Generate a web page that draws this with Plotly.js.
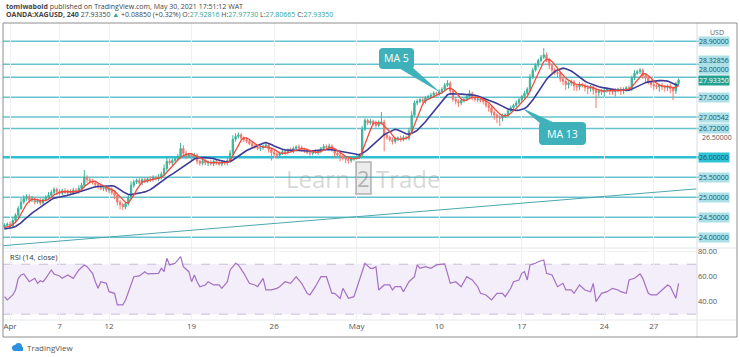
<!DOCTYPE html>
<html><head><meta charset="utf-8">
<script src="https://cdn.plot.ly/plotly-3.0.1.min.js"></script>
<style>html,body{margin:0;padding:0;background:#fff;overflow:hidden}#chart{width:740px;height:357px}</style>
</head><body><div id="chart"></div>
<script>
// ---------------- DATA ----------------
// x positions are 4-hour bar indices; bar 2 = first bar of Apr 1
const dayLabels = ['Apr','7','12','19','26','May','10','17','24','27'];
const dayBars   = [2, 20, 38, 68, 98, 128, 158, 188, 218, 236];

// closes of the 12 bars before the visible window (used only to seed the moving averages)
const warmCloses = [24.18,24.22,24.15,24.20,24.25,24.18,24.12,24.20,24.24,24.18,24.22,24.26];

// closes of the visible 4h bars
const closes = [
 24.30,24.33,24.28,24.42,24.55,24.72,24.88,24.97,25.02,24.93,
 24.96,24.88,24.92,24.86,24.94,25.00,25.05,25.12,25.20,25.14,
 25.10,25.16,25.12,25.15,25.10,25.18,25.14,25.22,25.30,25.50,
 25.44,25.40,25.36,25.32,25.26,25.22,25.25,25.18,25.20,25.12,
 25.05,24.88,24.82,24.76,24.84,24.98,25.30,25.38,25.42,25.36,
 25.44,25.40,25.46,25.44,25.50,25.46,25.50,25.58,25.72,25.90,
 25.86,25.92,25.96,26.02,26.22,26.10,26.04,26.06,26.02,26.05,
 25.90,25.85,25.90,25.86,25.88,25.84,25.90,25.86,25.83,25.88,
 25.86,25.92,26.10,26.45,26.52,26.56,26.48,26.44,26.40,26.34,
 26.28,26.26,26.22,26.24,26.28,26.31,26.20,26.12,26.08,26.05,
 26.10,26.14,26.12,26.18,26.16,26.22,26.26,26.24,26.20,26.16,
 26.12,26.10,26.14,26.12,26.15,26.22,26.27,26.25,26.28,26.18,
 26.10,26.06,26.02,25.98,25.95,25.92,25.96,25.98,26.02,26.05,
 26.70,26.92,26.86,26.90,26.84,26.80,26.86,26.88,26.55,26.50,
 26.44,26.40,26.46,26.48,26.45,26.50,26.48,26.66,27.05,27.36,
 27.40,27.44,27.40,27.48,27.52,27.55,27.60,27.58,27.64,27.70,
 27.80,27.85,27.66,27.45,27.40,27.36,27.42,27.44,27.52,27.60,
 27.50,27.44,27.46,27.42,27.40,27.30,27.24,27.12,27.06,27.00,
 26.98,27.04,27.06,27.16,27.24,27.30,27.36,27.44,27.52,27.60,
 27.70,28.00,28.18,28.30,28.42,28.50,28.56,28.44,28.30,28.18,
 28.12,28.10,27.96,27.90,27.82,27.86,27.88,27.78,27.76,27.82,
 27.80,27.74,27.72,27.76,27.68,27.62,27.66,27.63,27.68,27.70,
 27.66,27.64,27.68,27.70,27.66,27.70,27.74,27.72,27.98,28.10,
 28.14,28.18,28.04,27.98,27.88,27.82,27.78,27.76,27.80,27.76,
 27.74,27.78,27.72,27.66,27.845,27.9335
];

// upper / lower wick lengths in cents
const wickUp = [
 5,4,6,8,5,6,10,8,6,5,7,4,  5,6,4,5,8,6,5,4,6,5,7,4,
 5,6,5,8,6,18,5,4,6,5,4,6,  5,4,6,5,4,3,5,4,5,8,10,6,
 5,8,6,5,4,6,5,4,8,6,10,12, 6,5,4,6,14,8,6,5,4,6,5,4,
 6,5,4,6,5,4,6,5,4,6,8,10,  8,6,5,4,6,5,4,6,5,6,4,8,
 5,4,6,5,4,6,5,4,6,5,4,6,   5,4,6,5,4,6,5,4,6,5,6,4,
 5,4,6,5,4,6,5,4,6,5,8,6,   5,6,4,8,6,25,6,5,4,6,5,4,
 6,5,4,8,10,6,5,4,6,5,4,6,  5,4,6,5,6,8,5,4,6,5,4,6,
 5,8,4,6,5,4,6,5,4,6,5,4,   6,5,4,6,5,4,6,5,4,6,5,8,
 6,5,4,6,17,6,5,4,6,5,4,6,  5,4,6,5,4,6,5,4,6,5,4,6,
 5,4,6,5,4,6,5,4,6,5,4,6,   6,8,5,5,4,6,5,4,6,5,4,6,
 5,4,6,5,4,4
];
const wickDn = [
 6,5,8,4,5,6,4,5,6,8,5,6,   4,6,5,4,6,5,4,8,6,5,4,6,
 5,4,6,5,4,6,8,5,4,6,5,4,   6,5,8,6,10,8,12,8,6,5,4,6,
 5,4,6,5,4,6,5,4,6,5,4,6,   5,6,4,5,4,6,8,5,10,6,8,6,
 5,6,8,5,6,5,4,6,5,6,4,5,   6,5,4,6,5,4,6,5,4,6,5,4,
 8,20,10,6,5,4,6,5,4,6,5,4, 6,5,4,6,5,4,6,5,4,6,5,4,
 10,8,12,6,10,8,6,5,4,6,5,4, 6,5,4,6,5,4,40,6,5,8,6,5,
 6,5,4,6,5,4,6,5,4,6,5,4,   6,5,4,6,5,4,10,6,8,10,6,5,
 4,6,8,5,6,5,8,6,10,8,12,15, 20,8,6,5,4,6,5,4,6,5,4,6,
 5,4,6,5,4,6,10,8,6,12,8,10, 14,10,8,12,10,8,6,10,14,8,12,39,
 10,8,12,6,10,8,12,6,10,8,6,5, 6,5,4,6,8,10,6,8,10,6,12,8,
 10,8,12,23,8,4
];

// horizontal levels drawn on the chart
const levels = [28.9, 28.32856, 28.0, 27.5, 27.00542, 26.72, 26.0, 25.5, 25.0, 24.5, 24.0];
const keyLevel = 26.0;
const plainTicks = [26.5];
const lastPrice = 27.9335;
const header = {open: 27.92816, high: 27.97730, low: 27.80665, close: 27.93350, change: 0.08850, pct: 0.32};

// rising trend line
const trendBars = [-0.5, 251.5];
const trendPrices = [23.79, 25.21];

// RSI (14, close)
const rsiBars = [
 0,1,3,4,5,6,7,9,10,11, 12,13,14,15,17,18,20,21,23,25,
 27,29,30,32,33,34,35,37,38,40, 41,43,44,46,47,49,51,52,54,56,
 57,58,59,60,62,64,65,67,68,69, 70,71,73,74,76,78,79,81,82,84,
 85,87,89,91,92,94,95,97,99,100, 102,104,106,108,110,111,113,115,117,119,
 120,122,123,125,127,128,130,131,133,134, 135,136,138,140,141,142,144,145,147,149,
 150,151,153,155,157,160,161,162,164,166, 168,170,172,173,175,177,179,181,182,184,
 185,187,188,189,190,191,193,194,196,197, 199,201,203,204,206,207,209,211,213,214,
 215,217,219,221,223,224,226,227,229,231, 232,234,235,237,239,241,242,244,245
];
const rsiValues = [
 44.0,41.4,45.4,49.4,58.7,61.4,62.2,56.0,57.4,58.7, 54.7,56.8,56.0,58.7,65.4,62.2,60.6,58.7,61.4,58.7,
 65.4,69.4,68.0,62.7,56.0,50.7,56.0,54.7,48.0,46.7, 37.4,37.4,41.4,53.4,60.0,60.6,64.0,62.2,62.2,62.7,
 66.7,64.0,74.7,69.4,70.7,76.0,68.0,64.0,56.0,61.4, 56.0,52.0,53.4,56.0,53.4,53.4,50.7,56.0,65.4,70.7,
 69.4,62.7,54.7,53.4,52.0,58.7,49.4,49.4,50.7,52.0, 56.0,54.7,60.0,54.7,46.7,45.4,52.0,60.0,60.0,46.7,
 46.7,42.7,50.7,42.7,44.0,50.7,62.7,70.7,66.7,66.7, 68.0,49.4,53.4,53.4,49.4,52.0,52.0,48.0,56.0,60.0,
 69.4,66.7,68.0,66.7,69.4,70.2,62.7,54.7,56.0,52.0, 60.0,57.4,52.0,46.7,45.4,41.4,46.7,46.7,44.0,50.7,
 56.0,57.4,62.7,64.0,57.4,69.4,70.7,72.0,73.4,62.7, 61.4,52.0,54.7,49.4,49.4,46.7,53.4,49.4,48.0,54.7,
 40.0,46.7,48.0,50.7,49.4,48.0,46.7,57.4,58.7,62.2, 58.7,46.7,45.4,45.4,49.4,53.4,52.0,42.7,54.7
];
const rsiTicks = [40, 60, 80];
const rsiBand = [30, 70];

// ---------------- BUILD ----------------
const W = 740, H = 357;
const X = px => px / W;
const Y = py => 1 - py / H;

const bars = closes.map((_, i) => i);
const allCloses = warmCloses.concat(closes);
const opens = closes.map((c, i) => allCloses[i + warmCloses.length - 1]);
const highs = closes.map((c, i) => Math.max(opens[i], c) + wickUp[i] / 100);
const lows  = closes.map((c, i) => Math.min(opens[i], c) - wickDn[i] / 100);

function sma(n) {
  return closes.map((c, i) => {
    const end = i + warmCloses.length;
    let s = 0;
    for (let k = end - n + 1; k <= end; k++) s += allCloses[k];
    return s / n;
  });
}
const ma5 = sma(5), ma13 = sma(13);

const FONT = 'Open Sans, Liberation Sans, sans-serif';

const traces = [
  {type: 'candlestick', x: bars, open: opens, high: highs, low: lows, close: closes,
   xaxis: 'x', yaxis: 'y', whiskerwidth: 0, hoverinfo: 'skip', showlegend: false,
   increasing: {line: {color: '#3fb39c', width: 1}, fillcolor: '#3fb39c'},
   decreasing: {line: {color: '#f07a70', width: 1}, fillcolor: '#f07a70'}},
  {type: 'scatter', mode: 'lines', x: trendBars, y: trendPrices, xaxis: 'x', yaxis: 'y',
   line: {color: '#4ea7b0', width: 1}, hoverinfo: 'skip', showlegend: false},
  {type: 'scatter', mode: 'lines', x: bars, y: ma13, xaxis: 'x', yaxis: 'y',
   line: {color: '#3d3b98', width: 1.6}, hoverinfo: 'skip', showlegend: false},
  {type: 'scatter', mode: 'lines', x: bars, y: ma5, xaxis: 'x', yaxis: 'y',
   line: {color: '#ef4a3c', width: 1.3}, hoverinfo: 'skip', showlegend: false},
  {type: 'scatter', mode: 'lines', x: rsiBars, y: rsiValues, xaxis: 'x', yaxis: 'y2',
   line: {color: '#a470c2', width: 1.2}, hoverinfo: 'skip', showlegend: false}
];

const shapes = [];
// RSI band
shapes.push({type: 'rect', xref: 'paper', yref: 'y2', x0: X(3), x1: X(697), y0: rsiBand[0], y1: rsiBand[1],
  fillcolor: 'rgba(150,100,210,0.11)', line: {width: 0}, layer: 'below'});
rsiBand.forEach(v => shapes.push({type: 'line', xref: 'paper', yref: 'y2', x0: X(3), x1: X(697), y0: v, y1: v,
  line: {color: 'rgba(160,140,190,0.55)', width: 1, dash: 'dash'}, layer: 'below'}));
// horizontal levels
levels.forEach(v => shapes.push({type: 'line', xref: 'paper', yref: 'y', x0: X(3), x1: X(699), y0: v, y1: v,
  line: {color: v === keyLevel ? '#2fbfd2' : '#66c3cd', width: v === keyLevel ? 2.6 : 1.5}, layer: 'below'}));
// frame & separators
shapes.push({type: 'line', xref: 'paper', yref: 'paper', x0: X(697), x1: X(697), y0: Y(23), y1: Y(337), line: {color: '#d9dce2', width: 1}});
shapes.push({type: 'line', xref: 'paper', yref: 'paper', x0: X(3), x1: X(737), y0: Y(248), y1: Y(248), line: {color: '#e2e4ea', width: 1}});
shapes.push({type: 'line', xref: 'paper', yref: 'paper', x0: X(3), x1: X(737), y0: Y(320), y1: Y(320), line: {color: '#e6e8ec', width: 1}});
shapes.push({type: 'rect', xref: 'paper', yref: 'paper', x0: X(3), x1: X(737), y0: Y(337), y1: Y(23), line: {color: '#8e8e8e', width: 1}});

// callouts
function pathOf(pts) { return 'M ' + pts.map(p => X(p[0]).toFixed(5) + ',' + Y(p[1]).toFixed(5)).join(' L ') + ' Z'; }
function roundRect(x0, y0, x1, y1, r) {
  const P = (a, b) => X(a).toFixed(5) + ',' + Y(b).toFixed(5);
  return 'M ' + P(x0 + r, y0) + ' L ' + P(x1 - r, y0) + ' Q ' + P(x1, y0) + ' ' + P(x1, y0 + r) +
    ' L ' + P(x1, y1 - r) + ' Q ' + P(x1, y1) + ' ' + P(x1 - r, y1) +
    ' L ' + P(x0 + r, y1) + ' Q ' + P(x0, y1) + ' ' + P(x0, y1 - r) +
    ' L ' + P(x0, y0 + r) + ' Q ' + P(x0, y0) + ' ' + P(x0 + r, y0) + ' Z';
}
const calloutColor = '#3eb1ba';
shapes.push({type: 'path', xref: 'paper', yref: 'paper', path: roundRect(379, 48, 414, 69, 4), fillcolor: calloutColor, line: {width: 0}});
shapes.push({type: 'path', xref: 'paper', yref: 'paper', path: pathOf([[397, 67], [412, 67], [441, 93]]), fillcolor: calloutColor, line: {width: 0}});
shapes.push({type: 'path', xref: 'paper', yref: 'paper', path: roundRect(539, 122, 586, 145, 4), fillcolor: calloutColor, line: {width: 0}});
shapes.push({type: 'path', xref: 'paper', yref: 'paper', path: pathOf([[541, 124], [557, 124], [522, 108]]), fillcolor: calloutColor, line: {width: 0}});

// TradingView logo (small cloud)
shapes.push({type: 'circle', xref: 'paper', yref: 'paper', x0: X(12), x1: X(18), y0: Y(351), y1: Y(345), fillcolor: '#2f8fe0', line: {width: 0}});
shapes.push({type: 'circle', xref: 'paper', yref: 'paper', x0: X(15), x1: X(22), y0: Y(350), y1: Y(343), fillcolor: '#2f8fe0', line: {width: 0}});
shapes.push({type: 'rect', xref: 'paper', yref: 'paper', x0: X(14), x1: X(23), y0: Y(351), y1: Y(347), fillcolor: '#2f8fe0', line: {width: 0}});

const annotations = [];
const teal = '#2aa597';
annotations.push({xref: 'paper', yref: 'paper', x: X(4), y: Y(6), xanchor: 'left', yanchor: 'middle', showarrow: false,
  text: '<b>tomiwabold</b> published on TradingView.com, May 30, 2021 17:51:12 WAT',
  font: {family: FONT, size: 7, color: '#444'}});
const sp = v => '<span style="color:' + teal + '">' + v.toFixed(5) + '</span>';
annotations.push({xref: 'paper', yref: 'paper', x: X(4), y: Y(15), xanchor: 'left', yanchor: 'middle', showarrow: false,
  text: '<b>OANDA:XAGUSD, 240</b> ' + header.close.toFixed(5) + ' <span style="color:' + teal + '">▲</span> +' +
    header.change.toFixed(5) + ' (+' + header.pct.toFixed(2) + '%) O:' + sp(header.open) + ' H:' + sp(header.high) +
    ' L:' + sp(header.low) + ' C:' + sp(header.close),
  font: {family: FONT, size: 7, color: '#444'}});

// price scale labels (crowded ones nudged upward so they do not overlap)
const pushUp = {'28.32856': 3.5, '28.00000': 7.5};
levels.forEach(v => {
  const t = v.toFixed(5);
  annotations.push({xref: 'paper', yref: 'y', x: X(698), y: v, xanchor: 'left', yanchor: 'middle', showarrow: false,
    yshift: pushUp[t] || 0, text: t, bgcolor: v === keyLevel ? '#2fc3d6' : '#ace0e6', borderpad: 0,
    font: {family: FONT, size: 7, color: '#23555c'}});
});
plainTicks.forEach(v => annotations.push({xref: 'paper', yref: 'y', x: X(700), y: v, xanchor: 'left', yanchor: 'middle',
  showarrow: false, text: v.toFixed(5), font: {family: FONT, size: 7, color: '#555'}}));
annotations.push({xref: 'paper', yref: 'y', x: X(698), y: lastPrice, xanchor: 'left', yanchor: 'middle', showarrow: false,
  yshift: -1, text: lastPrice.toFixed(5), bgcolor: '#22a292', borderpad: 0, font: {family: FONT, size: 7, color: '#ffffff'}});
annotations.push({xref: 'paper', yref: 'paper', x: X(717), y: Y(32), xanchor: 'center', yanchor: 'middle', showarrow: false,
  text: 'USD', font: {family: FONT, size: 7, color: '#666'}});

annotations.push({xref: 'paper', yref: 'paper', x: X(8), y: Y(257), xanchor: 'left', yanchor: 'middle', showarrow: false,
  text: 'RSI (14, close)', font: {family: FONT, size: 7.5, color: '#333'}});

annotations.push({xref: 'paper', yref: 'paper', x: X(396.5), y: Y(58.5), xanchor: 'center', yanchor: 'middle', showarrow: false,
  text: 'MA 5', font: {family: FONT, size: 10.5, color: '#ffffff'}});
annotations.push({xref: 'paper', yref: 'paper', x: X(562.5), y: Y(133.5), xanchor: 'center', yanchor: 'middle', showarrow: false,
  text: 'MA 13', font: {family: FONT, size: 10.5, color: '#ffffff'}});

// watermark
const wm = 'rgba(150,150,150,0.38)';
annotations.push({xref: 'paper', yref: 'paper', x: X(352), y: Y(178), xanchor: 'right', yanchor: 'middle', showarrow: false,
  text: 'Learn', font: {family: FONT, size: 24, color: wm}});
annotations.push({xref: 'paper', yref: 'paper', x: X(363), y: Y(178), xanchor: 'center', yanchor: 'middle', showarrow: false,
  text: '2', bordercolor: 'rgba(130,130,130,0.45)', borderwidth: 2, borderpad: 0, bgcolor: 'rgba(150,150,150,0.18)',
  font: {family: FONT, size: 22, color: 'rgba(120,120,120,0.5)'}});
annotations.push({xref: 'paper', yref: 'paper', x: X(374), y: Y(178), xanchor: 'left', yanchor: 'middle', showarrow: false,
  text: 'Trade', font: {family: FONT, size: 24, color: wm}});

annotations.push({xref: 'paper', yref: 'paper', x: X(25), y: Y(347), xanchor: 'left', yanchor: 'middle', showarrow: false,
  text: 'TradingView', font: {family: FONT, size: 8, color: '#555'}});

const layout = {
  width: W, height: H, margin: {l: 0, r: 0, t: 0, b: 0},
  paper_bgcolor: '#ffffff', plot_bgcolor: '#ffffff', showlegend: false,
  font: {family: FONT},
  xaxis: {domain: [X(3), X(697)], range: [-0.55, 251.7], anchor: 'y2', rangeslider: {visible: false},
    tickvals: dayBars, ticktext: dayLabels, ticks: '', showgrid: true, gridcolor: '#eef0f4', zeroline: false,
    showline: false, tickfont: {family: FONT, size: 8, color: '#555'}, fixedrange: true},
  yaxis: {domain: [Y(248), Y(23)], range: [23.732, 29.357], side: 'right', showticklabels: false,
    showgrid: false, zeroline: false, ticks: '', fixedrange: true},
  yaxis2: {domain: [Y(320), Y(248)], range: [25.36, 82.96], side: 'right', anchor: 'x',
    tickvals: rsiTicks, ticktext: rsiTicks.map(v => v.toFixed(2)), ticks: '', showgrid: true, gridcolor: '#f1f2f5',
    zeroline: false, tickfont: {family: FONT, size: 7.5, color: '#555'}, fixedrange: true},
  shapes: shapes, annotations: annotations
};

Plotly.newPlot('chart', traces, layout, {displayModeBar: false, staticPlot: true});
</script>
</body></html>
